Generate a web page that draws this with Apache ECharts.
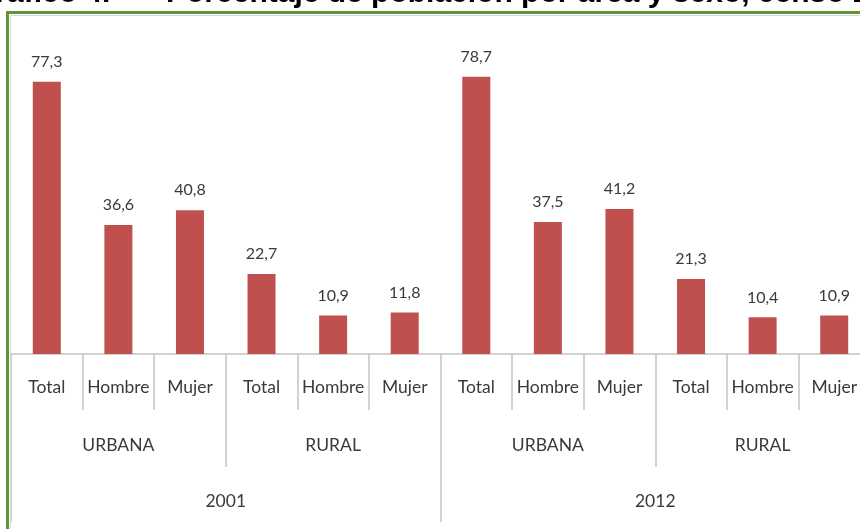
<!DOCTYPE html>
<html>
<head>
<meta charset="utf-8">
<script src="https://cdn.jsdelivr.net/npm/echarts@6/dist/echarts.min.js"></script>
<style>
  html, body { margin: 0; padding: 0; background: #fff; overflow: hidden; }
  /* el gráfico original continúa más allá del borde derecho */
  #chart { width: 880px; height: 529px; }
</style>
</head>
<body>
<div id="chart"></div>
<script>
// datos del gráfico
const years = ['2001', '2012'];
const areas = ['URBANA', 'RURAL', 'URBANA', 'RURAL'];
const sexes = ['Total', 'Hombre', 'Mujer', 'Total', 'Hombre', 'Mujer',
  'Total', 'Hombre', 'Mujer', 'Total', 'Hombre', 'Mujer'];
const values = [77.3, 36.6, 40.8, 22.7, 10.9, 11.8, 78.7, 37.5, 41.2, 21.3, 10.4, 10.9];

const textColor = '#3a3a3a';
const tickColor = '#c4c4c4';
const font = 'Lato, "Open Sans", sans-serif';
const titleFont = 'bold 30px "Liberation Sans", Arial, sans-serif';

const chart = echarts.init(document.getElementById('chart'));

// eje de categorías de un nivel
function levelAxis(data, tickLen, labelMargin, showLine) {
  return {
    type: 'category',
    position: 'bottom',
    offset: 0,
    data: data,
    gridIndex: 0,
    axisLine: { show: showLine, lineStyle: { color: tickColor, width: 1.5 } },
    axisTick: { show: true, length: tickLen, lineStyle: { color: tickColor, width: 1.5 } },
    axisLabel: {
      show: true,
      margin: labelMargin,
      color: textColor,
      fontSize: 17.5,
      fontFamily: font,
      interval: 0
    },
    splitLine: { show: false }
  };
}

chart.setOption({
  animation: false,
  backgroundColor: '#fff',
  graphic: [
    // marco verde
    {
      type: 'rect',
      shape: { x: 7.5, y: 12.5, width: 900, height: 600 },
      style: { fill: 'none', stroke: '#5e9636', lineWidth: 3 },
      z: 10
    },
    {
      type: 'rect',
      shape: { x: 10.5, y: 15.5, width: 900, height: 600 },
      style: { fill: 'none', stroke: '#d9d9d9', lineWidth: 1 },
      z: 10
    },
    // título (recortado en la parte superior)
    {
      type: 'text',
      left: -28,
      top: -21,
      style: { text: 'Gráfico 4.', font: titleFont, fill: '#000' }
    },
    {
      type: 'text',
      left: 166,
      top: -21,
      style: {
        text: 'Porcentaje de población por área y sexo, censo 2012',
        font: titleFont,
        fill: '#000'
      }
    }
  ],
  grid: { left: 11, top: 37, right: 10, height: 317 },
  xAxis: [
    levelAxis(sexes, 56, 24, true),
    levelAxis(areas, 113, 82, false),
    levelAxis(years, 168, 138, false)
  ],
  yAxis: { type: 'value', min: 0, max: 90, show: false },
  series: [
    {
      type: 'bar',
      xAxisIndex: 0,
      data: values,
      barWidth: 28,
      itemStyle: { color: '#c0504d' },
      label: {
        show: true,
        position: 'top',
        distance: 12,
        color: textColor,
        fontSize: 16,
        fontFamily: font,
        formatter: (p) => String(p.value).replace('.', ',')
      }
    }
  ]
});
</script>
</body>
</html>
